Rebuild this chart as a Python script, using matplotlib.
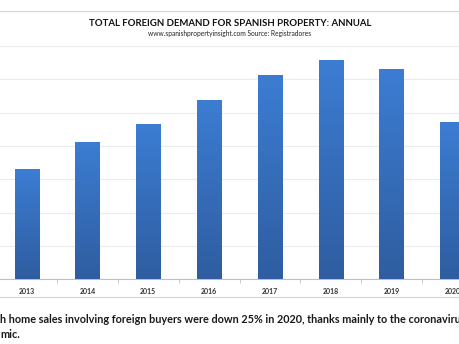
import matplotlib
matplotlib.use("Agg")
import matplotlib.pyplot as plt
import numpy as np
from matplotlib.colors import LinearSegmentedColormap

years = ["2013", "2014", "2015", "2016", "2017", "2018", "2019", "2020"]
demand = [49600, 61900, 69900, 80800, 92000, 98600, 94500, 70900]
grid_ticks = [0, 15000, 30000, 45000, 60000, 75000, 90000, 105000]

title = "TOTAL FOREIGN DEMAND FOR SPANISH PROPERTY: ANNUAL"
subtitle = "www.spanishpropertyinsight.com Source: Registradores"
caption1 = "h home sales involving foreign buyers were down 25% in 2020, thanks mainly to the coronaviru"
caption2 = "mic."

plt.rcParams['font.family'] = ['Lato', 'DejaVu Sans']

W, H = 459, 344
fig = plt.figure(figsize=(W / 100, H / 100), dpi=100)
fig.patch.set_facecolor("white")

ax = fig.add_axes([-3.7 / W, (H - 279.3) / H, 486.4 / W, 233.3 / H])
ax.set_xlim(-0.5, 7.5)
ax.set_ylim(0, 105000)
ax.set_facecolor("white")

x = np.arange(len(years))
bars = ax.bar(x, demand, width=0.395, color="none", edgecolor="none", zorder=3)
cmap = LinearSegmentedColormap.from_list("g", ["#2f5da0", "#3c7dd3"])
grad = np.linspace(0, 1, 256).reshape(-1, 1)
for b in bars:
    im = ax.imshow(grad, extent=(b.get_x(), b.get_x() + b.get_width(), 0, b.get_height()),
                   origin="lower", aspect="auto", cmap=cmap, zorder=3)
    im.set_clip_path(b)

ax.set_yticks(grid_ticks)
ax.yaxis.grid(True, color="#ececec", linewidth=0.8, zorder=0)
ax.tick_params(axis="y", left=False, labelleft=False)
ax.set_xticks(x)
ax.set_xticklabels(years, fontsize=5.0, fontweight="bold", color="#333333")
ax.tick_params(axis="x", length=0, pad=6)
ax.set_xticks(np.arange(len(years) + 1) - 0.5, minor=True)
ax.tick_params(axis="x", which="minor", length=3, color="#bfbfbf", width=0.6)
for s in ["top", "right", "left"]:
    ax.spines[s].set_visible(False)
ax.spines["bottom"].set_color("#bfbfbf")
ax.spines["bottom"].set_linewidth(0.8)
ax.set_axisbelow(True)

# page lines
fig.add_artist(plt.Line2D([0, 1], [(H - 10.7) / H] * 2, color="#d4d4d4", linewidth=0.8))
fig.add_artist(plt.Line2D([0, 1], [(H - 297.3) / H] * 2, color="#d4d4d4", linewidth=0.8))

fig.text(229.7 / W, (H - 23) / H, title, ha="center", va="center",
         fontsize=6.9, fontweight="bold", color="#111111")
fig.text(230 / W, (H - 33.5) / H, subtitle, ha="center", va="center",
         fontsize=4.8, color="#222222")

fig.text(0.0, (H - 322.7) / H, caption1, ha="left", va="baseline",
         fontsize=7.8, fontweight="bold", color="#1a1a1a")
fig.text(0.0, (H - 338.3) / H, caption2, ha="left", va="baseline",
         fontsize=7.8, fontweight="bold", color="#1a1a1a")

fig.savefig("out.png", dpi=100, facecolor="white")
